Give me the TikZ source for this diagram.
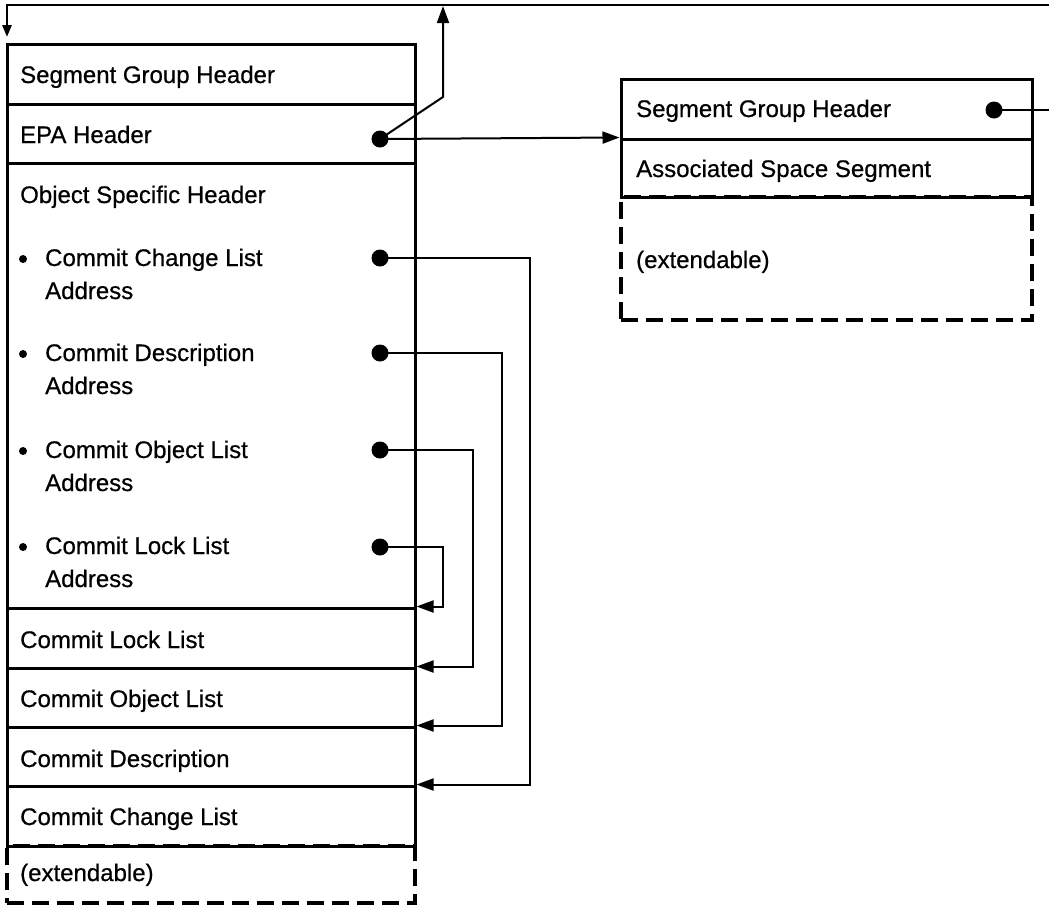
\documentclass[tikz,border=0pt]{standalone}
\usepackage{fontspec}
\setmainfont[FakeBold=0.6]{Liberation Sans}
\usetikzlibrary{arrows.meta}

\begin{document}
\begin{tikzpicture}[x=1pt,y=-1pt,
  lrow/.style={draw, line width=3pt, minimum width=408pt, inner sep=0pt},
  rrow/.style={draw, line width=3pt, minimum width=411pt, inner sep=0pt},
  extbox/.style={draw, line width=3.2pt, dash pattern=on 17pt off 8pt, inner sep=0pt},
  lbl/.style={anchor=base west, inner sep=0pt, font=\fontsize{24}{28}\selectfont},
  ptr/.style={circle, fill=black, minimum size=17pt, inner sep=0pt},
  bul/.style={circle, fill=black, minimum size=8pt, inner sep=0pt},
  conn/.style={line width=2pt, -{Triangle[length=17pt,width=12pt]}},
]
\useasboundingbox (0,0) rectangle (1049,906);

% ---- left segment: rows of the object ----
\node[lrow, minimum height=60pt]  (sgh)  at (211,74)    {};
\node[lrow, minimum height=59pt]  (epa)  at (211,133.5) {};
\node[lrow, minimum height=445pt] (osh)  at (211,385.5) {};
\node[lrow, minimum height=60pt]  (lock) at (211,638)   {};
\node[lrow, minimum height=59pt]  (objl) at (211,697.5) {};
\node[lrow, minimum height=59pt]  (desc) at (211,756.5) {};
\node[lrow, minimum height=60pt]  (chg)  at (211,816)   {};
\node[extbox, minimum width=408pt, minimum height=57pt] (lext) at (211,874.5) {};

\node[lbl] (tsgh)  at (20,83)  {Segment Group Header};
\node[lbl] (tepa)  at (20,143) {EPA Header};
\node[lbl] (tosh)  at (20,203) {Object Specific Header};
\node[lbl] (tcc1)  at (45,266) {Commit Change List};
\node[lbl] (tcc2)  at (45,299) {Address};
\node[lbl] (tcd1)  at (45,361) {Commit Description};
\node[lbl] (tcd2)  at (45,394) {Address};
\node[lbl] (tco1)  at (45,458) {Commit Object List};
\node[lbl] (tco2)  at (45,491) {Address};
\node[lbl] (tcl1)  at (45,554) {Commit Lock List};
\node[lbl] (tcl2)  at (45,587) {Address};
\node[lbl] (tlock) at (20,648) {Commit Lock List};
\node[lbl] (tobjl) at (20,707) {Commit Object List};
\node[lbl] (tdesc) at (20,767) {Commit Description};
\node[lbl] (tchg)  at (20,825) {Commit Change List};
\node[lbl] (tlext) at (20,881) {(extendable)};

\node[bul] (b1) at (23,259) {};
\node[bul] (b2) at (23,354) {};
\node[bul] (b3) at (23,451) {};
\node[bul] (b4) at (23,547) {};

% ---- right segment: associated space ----
\node[rrow, minimum height=60pt] (rsgh) at (826.5,109) {};
\node[rrow, minimum height=58pt] (ras)  at (826.5,168) {};
\node[extbox, minimum width=411pt, minimum height=123pt] (rext) at (826.5,258.5) {};

\node[lbl] (trsgh) at (636,117) {Segment Group Header};
\node[lbl] (tras)  at (636,177) {Associated Space Segment};
\node[lbl] (trext) at (636,268) {(extendable)};

% ---- pointer origins ----
\node[ptr] (pepa) at (380,139) {};
\node[ptr] (pcc)  at (380,258) {};
\node[ptr] (pcd)  at (380,353) {};
\node[ptr] (pco)  at (380,450) {};
\node[ptr] (pcl)  at (380,547) {};
\node[ptr] (prs)  at (994,110) {};

% ---- pointers ----
\coordinate (offR)    at (1062,110);
\coordinate (offTop)  at (1062,5);
\coordinate (topL)    at (7,5);
\coordinate (topIn)   at (7,37);
\coordinate (epaBend) at (443,97);
\coordinate (epaTop)  at (443,6);

\draw[line width=2.6pt, -{Triangle[length=12pt,width=9pt]}]
  (prs.center) -- (offR) -- (offTop) -- (topL) -- (topIn);
\draw[conn] (pepa.center) -- (epaBend) -- (epaTop);
\draw[conn] (pepa.center) -- (ras.north west);

\draw[conn] (pcc.center) -- ++(150,0) |- (chg.north east);
\draw[conn] (pcd.center) -- ++(122,0) |- (desc.north east);
\draw[conn] (pco.center) -- ++(93,0)  |- (objl.north east);
\draw[conn] (pcl.center) -- ++(63,0)  |- (lock.north east);
\end{tikzpicture}
\end{document}
